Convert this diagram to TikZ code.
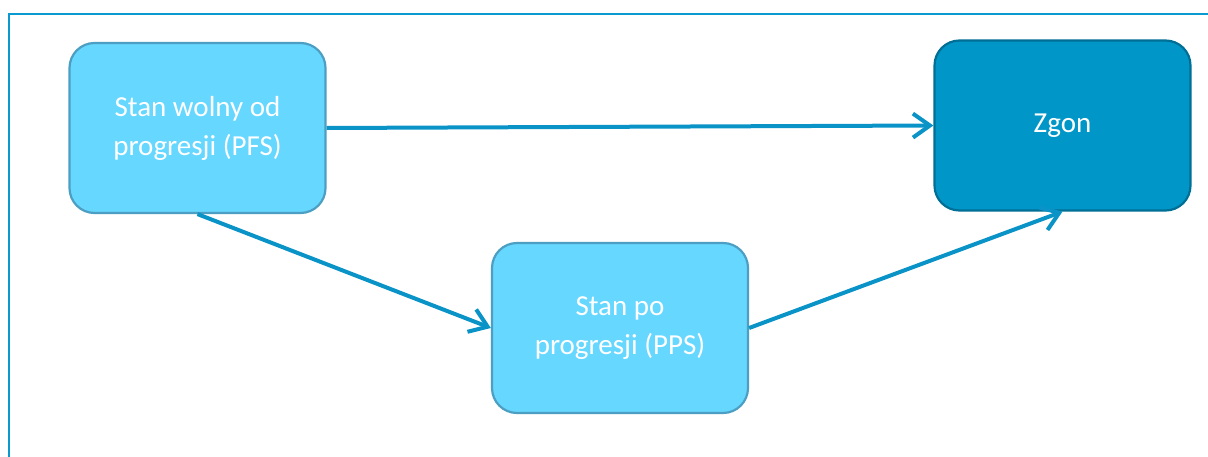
\documentclass[tikz,border=0pt]{standalone}
\usepackage{fontspec}
\setmainfont{Carlito}
\usetikzlibrary{arrows.meta}

\definecolor{framecol}{HTML}{0A9AD0}
\definecolor{lightfill}{HTML}{66D7FF}
\definecolor{lightedge}{HTML}{4C9FC2}
\definecolor{darkfill}{HTML}{0096C8}
\definecolor{darkedge}{HTML}{006F96}
\definecolor{flowcol}{HTML}{0A93C6}

\tikzset{
  statebox/.style={draw=lightedge, fill=lightfill, line width=2.2pt,
    rounded corners=25pt, minimum width=256pt, minimum height=170pt,
    text=white, align=center, font=\fontsize{29}{39}\selectfont},
  deathbox/.style={statebox, draw=darkedge, fill=darkfill},
  flow/.style={draw=flowcol, line width=4pt,
    -{Straight Barb[length=17pt,width=24pt,line width=4pt]}}
}

\begin{document}
\begin{tikzpicture}[x=1pt,y=-1pt]
  \useasboundingbox (0,0) rectangle (1208,457);
  % open frame
  \draw[framecol, line width=2.5pt] (9,457) -- (9,14) -- (1208,14);

  \node[statebox] (pfs) at (197.5,128) {Stan wolny od\\progresji (PFS)};
  \node[statebox] (pps) at (620,328) {Stan po\\progresji (PPS)};
  \node[deathbox] (zgon) at (1062.5,125.5) {Zgon};

  \draw[flow] (pfs.east) -- (zgon.west);
  \draw[flow] (pfs.south) -- (pps.west);
  \draw[flow] (pps.east) -- (zgon.south);
\end{tikzpicture}
\end{document}
